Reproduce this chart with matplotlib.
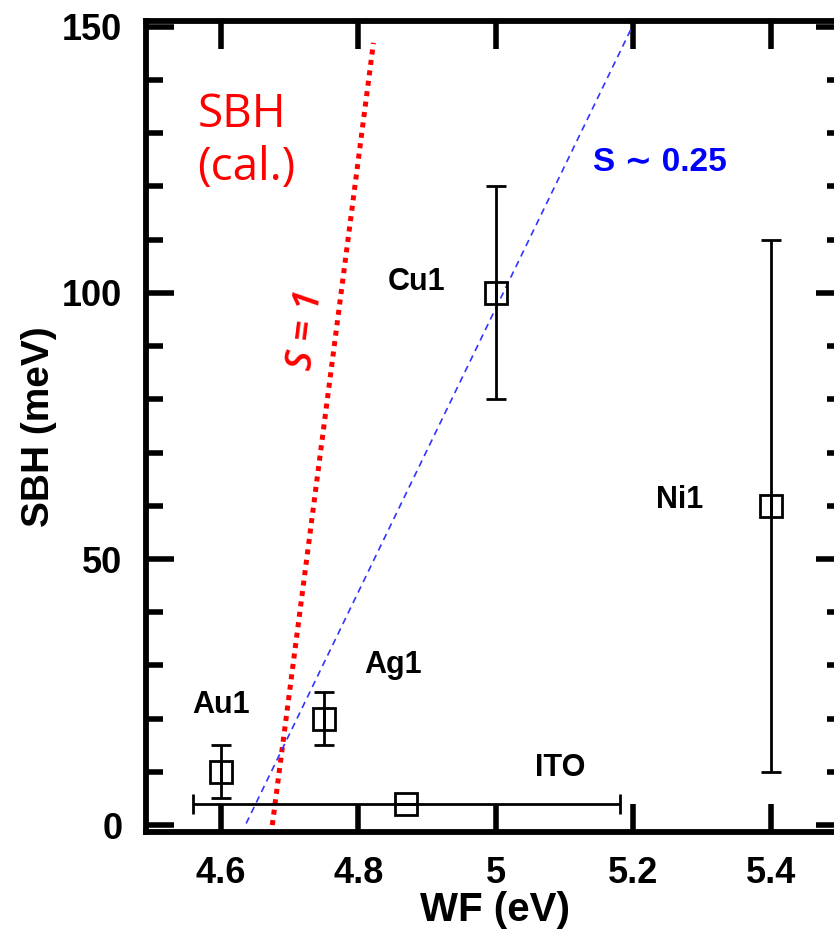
import matplotlib
matplotlib.use("Agg")
import matplotlib.pyplot as plt
import numpy as np

plt.rcParams["font.family"] = ["Liberation Sans", "DejaVu Sans"]
plt.rcParams["font.weight"] = "bold"

# measured contacts: work function (eV), barrier height (meV) and errors
names = ["Au1", "Ag1", "ITO", "Cu1", "Ni1"]
wf = [4.60, 4.75, 4.87, 5.00, 5.40]
sbh = [10, 20, 4, 100, 60]
sbh_err = [5, 5, 0, 20, 50]
wf_err = [0, 0, 0.31, 0, 0]

# label anchor points (eV, meV)
label_x = [4.60, 4.851, 5.093, 4.885, 5.267]
label_y = [22.6, 30.0, 10.7, 102.0, 61.0]

# S = 1 line (calculated SBH) and S ~ 0.25 fit
s1_wf = [4.675, 4.822]
s1_sbh = [0.0, 147.0]
fit_wf = [4.637, 5.198]
fit_sbh = [0.3, 150.0]

fig = plt.figure(figsize=(8.34, 9.31), dpi=100)
ax = fig.add_axes([146 / 834, 99 / 931, 698 / 834, 811 / 931])

ax.plot(s1_wf, s1_sbh, color="#ff0000", lw=3.6, linestyle=(0, (1, 1.1)),
        solid_capstyle="butt", dash_capstyle="butt")
ax.plot(fit_wf, fit_sbh, color="#3333ff", lw=1.2, linestyle=(0, (4, 3)))

ax.errorbar(wf, sbh, yerr=sbh_err, xerr=wf_err, fmt="s", ms=16,
            mfc="none", mec="black", mew=2, ecolor="black",
            elinewidth=2, capsize=7.5, capthick=2, zorder=3)

for n, x, y in zip(names, label_x, label_y):
    ax.text(x, y, n, fontsize=22, fontweight="bold", ha="center", va="center")

ax.text(5.239, 124.6, "S \u223c 0.25", color="#0000ff", fontsize=24,
        fontweight="bold", ha="center", va="center")
ax.text(4.566, 128.5, "SBH\n(cal.)", color="#ff0000", fontsize=33,
        family="Open Sans", fontweight="normal", ha="left", va="center",
        linespacing=1.2)
ax.text(4.724, 93, "S = 1", color="#ff0000", fontsize=27, family="Open Sans",
        style="italic", fontweight="semibold", rotation=83,
        ha="center", va="center")

ax.set_xlim(4.4914, 5.506)
ax.set_ylim(-1.3, 151.1)
ax.set_xticks([4.6, 4.8, 5.0, 5.2, 5.4])
ax.set_xticklabels(["4.6", "4.8", "5", "5.2", "5.4"])
ax.set_yticks([0, 50, 100, 150])
ax.set_yticks(np.arange(0, 151, 10), minor=True)

ax.tick_params(which="both", direction="in", top=True, right=True, width=4,
               labelsize=26, pad=17)
ax.tick_params(which="major", length=20)
ax.tick_params(which="minor", length=12)
for s in ax.spines.values():
    s.set_linewidth(4.2)

ax.set_xlabel("WF (eV)", fontsize=29, fontweight="bold", labelpad=0)
ax.set_ylabel("SBH (meV)", fontsize=28, fontweight="bold", labelpad=4)

fig.savefig("out.png", dpi=100)
